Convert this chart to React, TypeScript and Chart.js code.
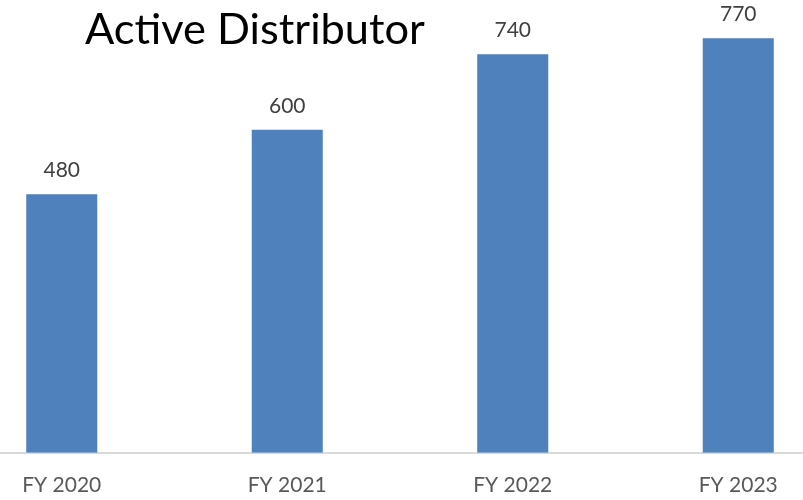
import React, { useEffect, useRef } from "react";
import { Chart, registerables } from "chart.js";

Chart.register(...registerables);

const categories = ["FY 2020", "FY 2021", "FY 2022", "FY 2023"];
const distributorValues = [480, 600, 740, 770];
const chartTitle = "Active Distributor";

const FONT = "Lato, 'Open Sans', sans-serif";

const valueLabelPlugin = {
  id: "valueLabels",
  afterDatasetsDraw(chart: any) {
    const ctx = chart.ctx;
    const meta = chart.getDatasetMeta(0);
    ctx.save();
    ctx.font = `21px ${FONT}`;
    ctx.fillStyle = "#404040";
    ctx.textAlign = "center";
    ctx.textBaseline = "alphabetic";
    meta.data.forEach((bar: any, i: number) => {
      ctx.fillText(String(distributorValues[i]), bar.x, bar.y - 17);
    });
    ctx.restore();
  },
};

export default function App() {
  const canvasRef = useRef<HTMLCanvasElement | null>(null);

  useEffect(() => {
    if (!canvasRef.current) return;
    const chart = new Chart(canvasRef.current, {
      type: "bar",
      data: {
        labels: categories,
        datasets: [
          {
            label: chartTitle,
            data: distributorValues,
            backgroundColor: "#4F81BD",
            borderWidth: 0,
            categoryPercentage: 1,
            barPercentage: 0.315,
          },
        ],
      },
      options: {
        responsive: false,
        animation: false,
        maintainAspectRatio: false,
        layout: { padding: { top: 22, bottom: 2, left: 0, right: 0 } },
        plugins: {
          legend: { display: false },
          title: { display: false },
          tooltip: { enabled: false },
        },
        scales: {
          x: {
            grid: { display: false, drawTicks: false },
            border: { display: true, color: "#D9D9D9", width: 2 },
            ticks: {
              font: { family: FONT, size: 21 },
              color: "#595959",
              padding: 20,
            },
          },
          y: {
            display: false,
            min: 0,
            max: 800,
          },
        },
      },
      plugins: [valueLabelPlugin],
    });
    return () => chart.destroy();
  }, []);

  return (
    <div
      style={{
        position: "fixed",
        left: 0,
        top: 0,
        width: 803,
        height: 500,
        overflow: "hidden",
        background: "#ffffff",
      }}
    >
      <canvas
        ref={canvasRef}
        width={902}
        height={520}
        style={{ position: "absolute", left: -51, top: 0, width: 902, height: 520 }}
      />
      <div
        style={{
          position: "absolute",
          left: 85,
          top: 6,
          fontFamily: FONT,
          fontSize: 43.4,
          lineHeight: 1,
          color: "#000000",
          whiteSpace: "nowrap",
        }}
      >
        {chartTitle}
      </div>
    </div>
  );
}
